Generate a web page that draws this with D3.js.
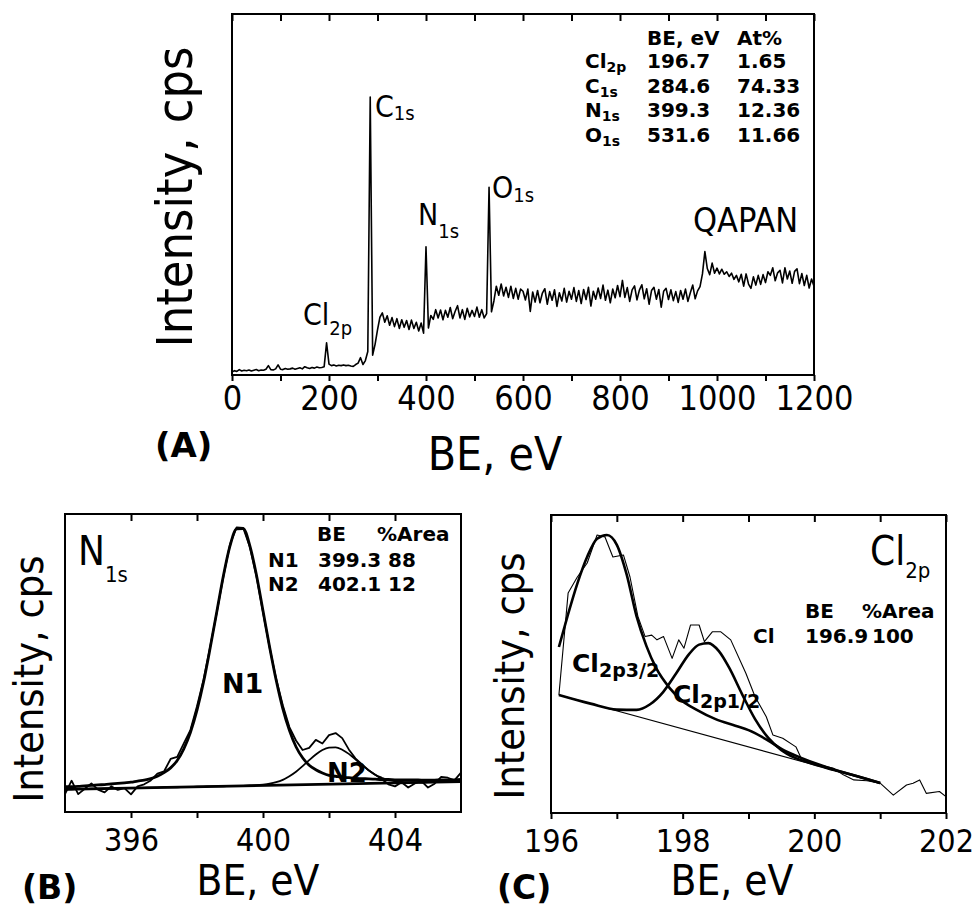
<!DOCTYPE html>
<html>
<head>
<meta charset="utf-8">
<script src="https://cdn.jsdelivr.net/npm/d3@7"></script>
<style>
  body { margin: 0; background: #fff; }
  svg text { font-family: "DejaVu Sans Condensed", "DejaVu Sans", sans-serif; font-stretch: condensed; fill: #000; }
  svg text.bold { font-family: "DejaVu Sans", sans-serif; font-stretch: normal; font-weight: bold; }
</style>
</head>
<body>
<svg id="fig" width="979" height="906"></svg>
<script>
// ---------- data: survey spectrum (A), 5 eV steps from 0 to 1200 eV ----------
const surveyStart = 0, surveyStep = 5;
const surveyCps = [
  0.8, 1.2, 1.0, 1.5, 1.1, 1.3, 1.2, 1.4, 1.1, 1.3, 1.5, 1.2, 1.4, 1.3, 1.6, 2.6, 1.5, 1.4, 1.7, 2.8,
  1.6, 1.5, 1.8, 1.6, 1.7, 1.9, 1.6, 1.8, 2.0, 1.7, 2.3, 2.0, 1.8, 2.1, 1.9, 2.2, 2.0, 2.1, 2.3, 8.9,
  3.0, 2.6, 2.8, 2.5, 2.7, 2.6, 2.8, 2.6, 2.7, 2.5, 2.4, 2.9, 3.3, 4.8, 2.9, 4.0, 6.5, 77.0, 5.5, 8.5,
  12.5, 16.0, 17.2, 14.6, 16.4, 13.8, 15.9, 13.4, 15.6, 12.9, 15.3, 13.2, 15.1, 12.6, 15.2, 12.9, 14.6, 12.2, 14.4, 11.6,
  35.5, 13.0, 16.5, 15.4, 18.1, 15.8, 18.0, 15.3, 17.9, 16.0, 18.7, 15.6, 17.6, 19.2, 15.8, 18.1, 15.4, 18.5, 16.1, 17.9,
  16.2, 18.8, 16.0, 18.1, 15.8, 17.0, 52.0, 17.5, 20.5, 24.6, 22.1, 25.2, 21.9, 24.3, 21.5, 24.6, 21.2, 24.0, 21.0, 23.8,
  23.2, 20.8, 23.8, 17.6, 23.0, 20.2, 23.4, 20.0, 22.7, 23.9, 19.6, 23.1, 20.7, 23.6, 19.0, 22.8, 20.5, 24.0, 20.2, 23.2,
  21.0, 24.2, 20.4, 23.4, 19.8, 23.7, 20.9, 24.3, 19.1, 23.2, 21.0, 24.1, 21.2, 24.9, 20.7, 23.5, 20.0, 23.8, 21.4, 24.8,
  21.7, 26.2, 21.5, 24.2, 20.4, 23.6, 24.7, 20.8, 23.5, 25.0, 21.1, 23.9, 19.6, 23.4, 24.3, 21.0, 23.7, 18.8, 23.2, 24.0,
  20.9, 23.6, 20.6, 23.1, 20.1, 23.4, 21.0, 23.8, 20.4, 22.8, 24.9, 21.1, 23.3, 24.5, 28.0, 34.2, 29.5, 27.8, 31.0, 28.2,
  29.6, 28.0, 29.3, 27.9, 28.6, 27.3, 28.2, 26.5, 27.6, 25.8, 27.9, 24.6, 28.0, 25.2, 24.0, 27.2, 24.9, 27.6, 25.1, 27.8,
  25.6, 28.6, 27.6, 29.7, 26.1, 28.3, 29.0, 25.5, 29.7, 26.6, 28.8, 25.4, 28.7, 29.4, 25.3, 28.1, 24.8, 27.6, 24.1, 26.6,
  24.6
];
const surveyTicks = [0, 100, 200, 300, 400, 500, 600, 700, 800, 900, 1000, 1100, 1200];
const surveyTickLabels = [0, 200, 400, 600, 800, 1000, 1200];
const surveyTableHead = ["BE, eV", "At%"];
const surveyElements = [["Cl", "2p"], ["C", "1s"], ["N", "1s"], ["O", "1s"]];
const surveyBE = ["196.7", "284.6", "399.3", "531.6"];
const surveyAt = ["1.65", "74.33", "12.36", "11.66"];

// ---------- data: N1s (B), 0.2 eV steps from 394 to 406 eV ----------
const nStart = 394, nStep = 0.2;
const nRaw = [
  6.0, 10.5, 6.0, 7.8, 9.6, 7.5, 6.6, 8.6, 7.4, 8.0, 5.9, 8.6, 9.3, 10.6, 12.9, 13.6, 17.8, 18.5, 23.0, 27.5,
  35.5, 44.5, 55.5, 67.0, 79.0, 89.8, 95.5, 95.3, 89.0, 79.2, 67.0, 55.2, 44.6, 35.8, 28.5, 24.0, 20.8, 21.5, 24.2, 23.0,
  25.8, 26.5, 24.8, 21.0, 18.0, 16.0, 14.0, 12.5, 11.0, 9.3, 8.6, 10.0, 8.2, 9.6, 10.4, 8.2, 9.5, 11.8, 11.5, 10.6,
  13.2
];
const nFitN1 = [
  8.5, 8.5, 8.6, 8.8, 8.9, 9.1, 9.2, 9.4, 9.6, 9.8, 10.0, 10.4, 10.7, 11.2, 12.0, 13.2, 14.8, 17.3, 21.2, 26.7,
  34.2, 43.7, 55.1, 67.2, 79.3, 89.3, 95.0, 95.1, 89.4, 79.6, 67.5, 55.4, 44.2, 34.7, 27.4, 21.9, 18.2, 15.7, 14.2, 13.1,
  12.3, 12.0, 11.7, 11.5, 11.3, 11.2, 11.1, 11.0, 10.9, 10.9, 10.8, 10.8, 10.8, 10.8, 10.7, 10.7, 10.7, 10.8, 10.8, 10.8,
  10.9
];
const nFitN2 = [
  7.6, 7.6, 7.7, 7.7, 7.8, 7.8, 7.9, 7.9, 8.0, 8.0, 8.0, 8.1, 8.1, 8.2, 8.2, 8.3, 8.3, 8.3, 8.4, 8.4,
  8.5, 8.5, 8.6, 8.6, 8.6, 8.7, 8.7, 8.8, 8.9, 9.0, 9.2, 9.5, 10.0, 10.8, 12.0, 13.5, 15.4, 17.4, 19.3, 20.8,
  21.6, 21.7, 20.9, 19.5, 17.7, 15.8, 14.0, 12.5, 11.5, 10.7, 10.4, 10.1, 10.0, 10.0, 9.9, 10.0, 10.0, 10.1, 10.1, 10.2,
  10.2
];
const nBackground = [[394, 7.6], [406, 10.2]];
const nTicks = [396, 398, 400, 402, 404];
const nTickLabels = [396, 400, 404];
const nNames = ["N1", "N2"], nBE = ["399.3", "402.1"], nArea = ["88", "12"];

// ---------- data: Cl2p (C) ----------
const clRaw = [
  [196.12, 39.6], [196.26, 73.8], [196.4, 79.2], [196.55, 83.9], [196.7, 93.3], [196.82, 92.6], [196.94, 85.9],
  [197.1, 86.6], [197.2, 79.2], [197.32, 66.0], [197.43, 59.2], [197.53, 59.7], [197.61, 58.1], [197.71, 59.2],
  [197.84, 51.9], [197.94, 58.1], [198.02, 55.3], [198.12, 63.1], [198.25, 63.1], [198.33, 57.5], [198.45, 60.8],
  [198.58, 60.8], [198.73, 58.1], [198.96, 46.9], [199.1, 39.0], [199.27, 32.3], [199.37, 26.2], [199.52, 25.1],
  [199.72, 22.2], [199.8, 18.4], [200.09, 16.1], [200.29, 15.0], [200.44, 12.8], [200.6, 11.1], [200.8, 10.8],
  [201.0, 10.0], [201.2, 6.0], [201.4, 9.4], [201.5, 10.0], [201.6, 11.1], [201.7, 6.6], [201.9, 7.2], [202.0, 5.5]
];
const cl2p32 = [
  [196.12, 55.7], [196.25, 66.0], [196.4, 77.0], [196.55, 86.0], [196.7, 92.0], [196.85, 93.3], [197.0, 90.0],
  [197.15, 80.0], [197.3, 66.0], [197.45, 56.0], [197.6, 48.5], [197.8, 42.0], [198.0, 37.5], [198.2, 34.8],
  [198.5, 31.5], [198.8, 29.3], [199.0, 27.8], [199.3, 24.3], [199.5, 21.5], [199.8, 18.5], [200.2, 15.3],
  [200.6, 12.7], [201.0, 10.1]
];
const cl2p12 = [
  [196.12, 39.6], [196.6, 36.7], [197.0, 34.7], [197.3, 34.6], [197.5, 36.4], [197.7, 40.5], [197.9, 46.8],
  [198.1, 53.4], [198.25, 56.5], [198.39, 57.0], [198.55, 54.3], [198.7, 49.0], [198.9, 40.0], [199.1, 31.5],
  [199.3, 25.2], [199.5, 21.1], [199.7, 18.6], [199.9, 17.0], [200.3, 14.4], [200.7, 12.0], [201.0, 10.1]
];
const clBackground = [[196.12, 39.6], [201.0, 10.1]];
const clTicks = [196, 197, 198, 199, 200, 201, 202];
const clTickLabels = [196, 198, 200, 202];
const clNames = ["Cl"], clBE = ["196.9"], clArea = ["100"];

const svg = d3.select("#fig");

// one framed panel: ticks out at the bottom, in at the top, no y ticks
function panel(o) {
  const x = d3.scaleLinear().domain(o.xDomain).range([o.left, o.right]);
  const y = d3.scaleLinear().domain([0, 100]).range([o.bottom, o.top]);
  const g = svg.append("g");

  g.append("g")
    .attr("transform", `translate(0,${o.bottom})`)
    .call(d3.axisBottom(x).tickValues(o.ticks).tickSizeInner(6).tickSizeOuter(0).tickPadding(o.pad)
      .tickFormat(d => o.labels.includes(d) ? d : ""))
    .call(a => {
      a.select(".domain").remove();
      a.selectAll("line").attr("stroke-width", 2);
      a.selectAll("text").style("font-size", o.tickFont + "px");
    });

  g.append("g")
    .attr("transform", `translate(0,${o.top})`)
    .call(d3.axisBottom(x).tickValues(o.ticks).tickSizeInner(7).tickSizeOuter(0).tickFormat(""))
    .call(a => {
      a.select(".domain").remove();
      a.selectAll("line").attr("stroke-width", 2);
    });

  g.append("rect")
    .attr("x", o.left).attr("y", o.top)
    .attr("width", o.right - o.left).attr("height", o.bottom - o.top)
    .attr("fill", "none").attr("stroke", "#000").attr("stroke-width", 2);

  return { x, y, g };
}

function path(p, data, width, curve) {
  p.g.append("path")
    .datum(data)
    .attr("fill", "none").attr("stroke", "#000").attr("stroke-width", width)
    .attr("stroke-linejoin", "round")
    .attr("d", d3.line().x(d => p.x(d[0])).y(d => p.y(d[1])).curve(curve || d3.curveLinear));
}

function subText(g, x, y, main, sub, size, subSize, dy, bold) {
  const t = g.append("text").attr("x", x).attr("y", y)
    .attr("class", bold ? "bold" : null).style("font-size", size + "px");
  t.append("tspan").text(main);
  t.append("tspan").attr("dy", dy).style("font-size", subSize + "px").text(sub);
  return t;
}

function plain(g, x, y, str, size, bold, anchor) {
  return g.append("text").attr("x", x).attr("y", y)
    .attr("class", bold ? "bold" : null)
    .attr("text-anchor", anchor || "start")
    .style("font-size", size + "px").text(str);
}

function yTitle(g, x, y, size) {
  g.append("text")
    .attr("transform", `translate(${x},${y}) rotate(-90)`)
    .attr("text-anchor", "middle")
    .style("font-size", size + "px")
    .text("Intensity, cps");
}

// ---------- (A) survey ----------
const pA = panel({ left: 232, right: 814, top: 14, bottom: 375, xDomain: [0, 1200],
  ticks: surveyTicks, labels: surveyTickLabels, pad: 5, tickFont: 34 });
path(pA, surveyCps.map((v, i) => [surveyStart + i * surveyStep, v]), 1.6);

subText(pA.g, 303, 325, "Cl", "2p", 30, 20, 10);
subText(pA.g, 375, 117, "C", "1s", 30, 20, 3);
subText(pA.g, 418, 225, "N", "1s", 30, 20, 13);
subText(pA.g, 492, 198, "O", "1s", 30, 20, 4);
plain(pA.g, 693, 232, "QAPAN", 34);

plain(pA.g, 647, 45, surveyTableHead[0], 20, true);
plain(pA.g, 737, 45, surveyTableHead[1], 20, true);
surveyElements.forEach((el, i) => {
  const by = 68 + i * 24.7;
  subText(pA.g, 585, by, el[0], el[1], 20, 14, 4, true);
  plain(pA.g, 647, by, surveyBE[i], 20, true);
  plain(pA.g, 737, by, surveyAt[i], 20, true);
});

yTitle(pA.g, 192, 197, 50);
plain(pA.g, 495, 470, "BE, eV", 46, false, "middle");
plain(pA.g, 155, 457, "(A)", 34, true);

// ---------- (B) N1s ----------
const pB = panel({ left: 65, right: 461, top: 514, bottom: 812, xDomain: [394, 406],
  ticks: nTicks, labels: nTickLabels, pad: 10, tickFont: 32 });
plain(pB.g, 222, 693, "N1", 27, true);
plain(pB.g, 327, 782, "N2", 26, true);
path(pB, nBackground, 2.8);
path(pB, nFitN2.map((v, i) => [nStart + i * nStep, v]), 1.8, d3.curveMonotoneX);
path(pB, nFitN1.map((v, i) => [nStart + i * nStep, v]), 2.8, d3.curveMonotoneX);
path(pB, nRaw.map((v, i) => [nStart + i * nStep, v]), 1.8);

subText(pB.g, 78, 565, "N", "1s", 40, 22, 17);
plain(pB.g, 317, 541, "BE", 20, true);
plain(pB.g, 377, 541, "%Area", 20, true);
nNames.forEach((n, i) => {
  const by = 567 + i * 23.5;
  plain(pB.g, 268, by, n, 20, true);
  plain(pB.g, 318, by, nBE[i], 20, true);
  plain(pB.g, 388, by, nArea[i], 20, true);
});

yTitle(pB.g, 43, 679, 41);
plain(pB.g, 258, 895, "BE, eV", 42, false, "middle");
plain(pB.g, 22, 899, "(B)", 33, true);

// ---------- (C) Cl2p ----------
const pC = panel({ left: 551, right: 946, top: 515, bottom: 813, xDomain: [196, 202],
  ticks: clTicks, labels: clTickLabels, pad: 10, tickFont: 32 });
path(pC, clBackground, 1.1);
path(pC, cl2p12, 2.6, d3.curveMonotoneX);
path(pC, cl2p32, 2.6, d3.curveMonotoneX);
path(pC, clRaw, 1.1);

subText(pC.g, 572, 672, "Cl", "2p3/2", 25, 19, 5, true);
subText(pC.g, 673, 703, "Cl", "2p1/2", 25, 19, 5, true);
subText(pC.g, 870, 565, "Cl", "2p", 40, 22, 13);
plain(pC.g, 805, 618, "BE", 20, true);
plain(pC.g, 862, 618, "%Area", 20, true);
clNames.forEach((n, i) => {
  const by = 643 + i * 24;
  plain(pC.g, 753, by, n, 20, true);
  plain(pC.g, 805, by, clBE[i], 20, true);
  plain(pC.g, 872, by, clArea[i], 20, true);
});

yTitle(pC.g, 524, 676, 41);
plain(pC.g, 732, 895, "BE, eV", 42, false, "middle");
plain(pC.g, 497, 899, "(C)", 33, true);
</script>
</body>
</html>
